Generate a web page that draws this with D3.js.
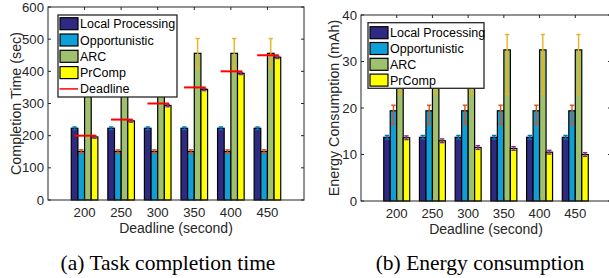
<!DOCTYPE html>
<html>
<head>
<meta charset="utf-8">
<script src="https://cdn.jsdelivr.net/npm/d3@7"></script>
<style>
  body { margin: 0; background: #fff; }
  svg { display: block; font-family: "Liberation Sans", Arial, sans-serif; }
</style>
</head>
<body>
<div id="chart"></div>
<script>
// categories (deadline, seconds)
const deadlines = [200, 250, 300, 350, 400, 450];
const seriesNames = ["Local Processing", "Opportunistic", "ARC", "PrComp"];

// completion time (sec)
const timeLocal = [223, 223, 223, 223, 223, 223];
const timeOpp = [151, 151, 151, 151, 151, 151];
const timeArc = [456, 456, 456, 456, 456, 456];
const timePrComp = [196, 246, 294, 344, 394, 444];
// error bar ends (low, high)
const timeLow = [
  [219, 219, 219, 219, 219, 219],
  [146, 146, 146, 146, 146, 146],
  [410, 410, 410, 410, 410, 410],
  [192, 242, 290, 340, 390, 440]
];
const timeHigh = [
  [227, 227, 227, 227, 227, 227],
  [156, 156, 156, 156, 156, 156],
  [502, 502, 502, 502, 502, 502],
  [199, 249, 297, 347, 397, 447]
];
const timeTicks = [0, 100, 200, 300, 400, 500, 600];

// energy consumption (mAh)
const energyLocal = [13.7, 13.7, 13.7, 13.7, 13.7, 13.7];
const energyOpp = [19.4, 19.4, 19.4, 19.4, 19.4, 19.4];
const energyArc = [32.5, 32.5, 32.5, 32.5, 32.5, 32.5];
const energyPrComp = [13.6, 12.95, 11.5, 11.3, 10.5, 10.0];
const energyLow = [
  [13.3, 13.3, 13.3, 13.3, 13.3, 13.3],
  [16.5, 16.5, 16.5, 16.5, 16.5, 16.5],
  [23.0, 23.0, 23.0, 23.0, 23.0, 23.0],
  [13.2, 12.55, 11.1, 10.9, 10.1, 9.6]
];
const energyHigh = [
  [14.1, 14.1, 14.1, 14.1, 14.1, 14.1],
  [20.6, 20.6, 20.6, 20.6, 20.6, 20.6],
  [35.8, 35.8, 35.8, 35.8, 35.8, 35.8],
  [14.0, 13.35, 11.9, 11.7, 10.9, 10.4]
];
const energyTicks = [0, 10, 20, 30, 40];

const barColors = ["#2e2a82", "#0e9fd6", "#9fc06c", "#ffff00"];
const errColors = ["#0072bd", "#d95319", "#edb120", "#7e2f8e"];
const axisColor = "#262626";

const svg = d3.select("#chart").append("svg")
  .attr("width", 609)
  .attr("height", 278);

svg.append("rect").attr("width", 609).attr("height", 278).attr("fill", "#fff");

function drawPanel(p) {
  const x = d3.scaleLinear().domain([0, 7]).range([p.left, p.right]);
  const y = d3.scaleLinear().domain(p.yDomain).range([p.bottom, p.top]);
  const g = svg.append("g");

  const bw = (4 / 5.5) / 4; // matlab grouped bar width in x units
  const bars = [];
  p.series.forEach((vals, s) => {
    vals.forEach((v, i) => {
      bars.push({ s, i, v, lo: p.low[s][i], hi: p.high[s][i], cx: i + 1 + (s - 1.5) * bw });
    });
  });

  g.selectAll("rect.bar").data(bars).enter().append("rect")
    .attr("class", "bar")
    .attr("x", (d) => x(d.cx - bw / 2))
    .attr("width", (d) => x(d.cx + bw / 2) - x(d.cx - bw / 2))
    .attr("y", (d) => y(d.v))
    .attr("height", (d) => y(0) - y(d.v))
    .attr("fill", (d) => barColors[d.s])
    .attr("stroke", "#000")
    .attr("stroke-width", 1.2);

  // error bars
  const eb = g.selectAll("g.err").data(bars).enter().append("g")
    .attr("stroke", (d) => errColors[d.s])
    .attr("stroke-width", 1.4);
  eb.append("line")
    .attr("x1", (d) => x(d.cx)).attr("x2", (d) => x(d.cx))
    .attr("y1", (d) => y(d.lo)).attr("y2", (d) => y(d.hi));
  eb.append("line")
    .attr("x1", (d) => x(d.cx) - 2.2).attr("x2", (d) => x(d.cx) + 2.2)
    .attr("y1", (d) => y(d.lo)).attr("y2", (d) => y(d.lo));
  eb.append("line")
    .attr("x1", (d) => x(d.cx) - 2.2).attr("x2", (d) => x(d.cx) + 2.2)
    .attr("y1", (d) => y(d.hi)).attr("y2", (d) => y(d.hi));

  if (p.deadline) {
    g.selectAll("line.dl").data(deadlines).enter().append("line")
      .attr("x1", (d, i) => x(i + 1 - 0.28))
      .attr("x2", (d, i) => x(i + 1 + 0.31))
      .attr("y1", (d) => y(d)).attr("y2", (d) => y(d))
      .attr("stroke", "#ff0000")
      .attr("stroke-width", 2);
  }

  // axes box with inward ticks
  const ax = g.append("g").attr("stroke", axisColor).attr("stroke-width", 1);
  ax.append("rect")
    .attr("x", p.left).attr("y", p.top)
    .attr("width", p.right - p.left).attr("height", p.bottom - p.top)
    .attr("fill", "none");
  deadlines.forEach((d, i) => {
    ax.append("line").attr("x1", x(i + 1)).attr("x2", x(i + 1)).attr("y1", p.bottom).attr("y2", p.bottom - 3);
    ax.append("line").attr("x1", x(i + 1)).attr("x2", x(i + 1)).attr("y1", p.top).attr("y2", p.top + 3);
  });
  p.ticks.forEach((t) => {
    ax.append("line").attr("x1", p.left).attr("x2", p.left + 3).attr("y1", y(t)).attr("y2", y(t));
    ax.append("line").attr("x1", p.right).attr("x2", p.right - 3).attr("y1", y(t)).attr("y2", y(t));
  });

  g.selectAll("text.xt").data(deadlines).enter().append("text")
    .attr("x", (d, i) => x(i + 1))
    .attr("y", p.bottom + 17)
    .attr("text-anchor", "middle")
    .attr("font-size", 13.2)
    .attr("fill", axisColor)
    .text((d) => d);
  g.selectAll("text.yt").data(p.ticks).enter().append("text")
    .attr("x", p.left - 4)
    .attr("y", (d) => y(d) + 4.5)
    .attr("text-anchor", "end")
    .attr("font-size", 13.2)
    .attr("fill", axisColor)
    .text((d) => d);

  g.append("text")
    .attr("x", (x(0) + x(7)) / 2)
    .attr("y", p.bottom + 33)
    .attr("text-anchor", "middle")
    .attr("font-size", 14)
    .attr("fill", axisColor)
    .text("Deadline (second)");
  g.append("text")
    .attr("transform", `translate(${p.yLabelX},${(p.top + p.bottom) / 2}) rotate(-90)`)
    .attr("text-anchor", "middle")
    .attr("font-size", 14.3)
    .attr("fill", axisColor)
    .text(p.yLabel);

  // legend
  const lg = p.legend;
  const items = seriesNames.map((n, i) => ({ n, i }));
  if (p.deadline) items.push({ n: "Deadline", i: -1 });
  const leg = g.append("g");
  leg.append("rect")
    .attr("x", lg.x).attr("y", lg.y)
    .attr("width", lg.w).attr("height", lg.h)
    .attr("fill", "#fff").attr("stroke", axisColor).attr("stroke-width", 1.3);
  items.forEach((it, k) => {
    const cy = lg.y + lg.first + k * lg.step;
    if (it.i >= 0) {
      leg.append("rect")
        .attr("x", lg.x + 2).attr("y", cy - 6)
        .attr("width", 18).attr("height", 12)
        .attr("fill", barColors[it.i]).attr("stroke", "#000").attr("stroke-width", 1.2);
    } else {
      leg.append("line")
        .attr("x1", lg.x + 1.5).attr("x2", lg.x + 20)
        .attr("y1", cy).attr("y2", cy)
        .attr("stroke", "#ff0000").attr("stroke-width", 1.5);
    }
    leg.append("text")
      .attr("x", lg.x + 22).attr("y", cy + 4.5)
      .attr("font-size", 12.5)
      .attr("fill", "#000")
      .text(it.n);
  });

  svg.append("text")
    .attr("x", p.captionX).attr("y", 270)
    .attr("text-anchor", "middle")
    .attr("font-family", "'Liberation Serif', 'Times New Roman', serif")
    .attr("font-size", 21.5)
    .attr("fill", "#000")
    .text(p.caption);
}

drawPanel({
  left: 48, right: 304, top: 7, bottom: 200,
  yDomain: [0, 600], ticks: timeTicks,
  series: [timeLocal, timeOpp, timeArc, timePrComp],
  low: timeLow, high: timeHigh,
  deadline: true,
  yLabel: "Completion Time (sec)", yLabelX: 21,
  legend: { x: 58, y: 15, w: 119, h: 82, first: 8.7, step: 16.3 },
  caption: "(a) Task completion time", captionX: 168
});

drawPanel({
  left: 361, right: 611, top: 15, bottom: 201,
  yDomain: [0, 40], ticks: energyTicks,
  series: [energyLocal, energyOpp, energyArc, energyPrComp],
  low: energyLow, high: energyHigh,
  deadline: false,
  yLabel: "Energy Consumption (mAh)", yLabelX: 339,
  legend: { x: 368, y: 22.7, w: 116, h: 65.6, first: 10, step: 15.8 },
  caption: "(b) Energy consumption", captionX: 480
});
</script>
</body>
</html>
